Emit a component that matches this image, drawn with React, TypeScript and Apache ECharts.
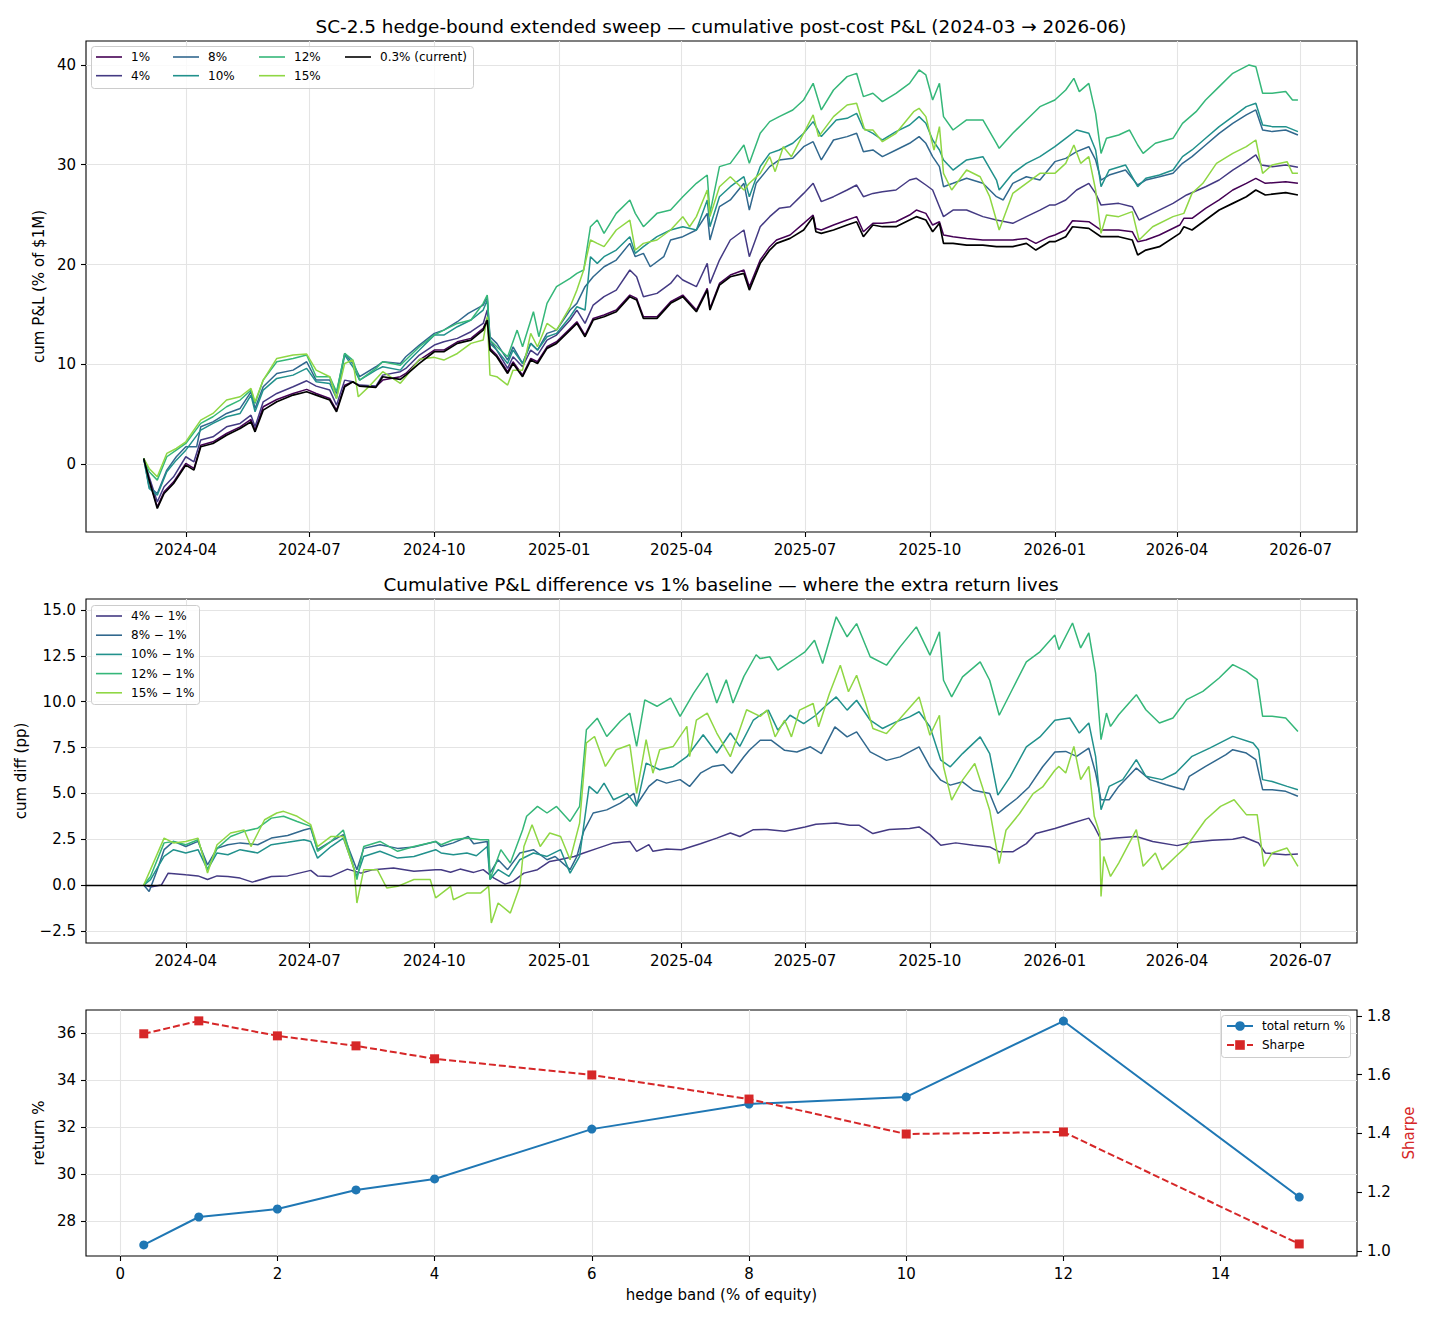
import React, { useEffect, useRef } from "react";
import * as echarts from "echarts";

const FONT = "DejaVu Sans";

// ---------- axis ticks ----------
// x positions are day indices counted from 2024-03-01
const dateTickDays = [31, 122, 214, 306, 396, 487, 579, 671, 761, 852];
const dateTickLabels = ["2024-04", "2024-07", "2024-10", "2025-01", "2025-04", "2025-07", "2025-10", "2026-01", "2026-04", "2026-07"];
const pnlTicks = [0, 10, 20, 30, 40];
const diffTicks = [-2.5, 0, 2.5, 5, 7.5, 10, 12.5, 15];
const bandTicks = [0, 2, 4, 6, 8, 10, 12, 14];
const returnTicks = [28, 30, 32, 34, 36];
const sharpeTicks = [1.0, 1.2, 1.4, 1.6, 1.8];

// ---------- top panel: cumulative P&L (% of $1M), [day, value] ----------
const pnl1 = [[0,0.57],[4,-1.54],[10,-4.28],[15,-2.77],[22,-1.77],[31,0.07],[37,-0.43],[42,1.9],[51,2.24],[61,3.07],[71,3.74],[79,4.48],[82,3.41],[88,5.75],[98,6.48],[110,7.08],[120,7.49],[127,7.08],[137,6.58],[142,5.41],[148,7.92],[154,8.25],[159,7.82],[171,7.75],[176,8.42],[189,8.76],[193,9.09],[203,10.43],[214,11.43],[221,11.43],[231,12.26],[241,12.6],[250,13.6],[253,14.6],[255,11.6],[260,10.93],[268,9.26],[272,10.26],[279,8.92],[285,10.59],[290,10.26],[297,11.76],[304,12.26],[314,13.6],[319,14.27],[325,12.93],[331,14.6],[339,14.94],[348,15.44],[358,16.94],[363,16.61],[368,14.77],[378,14.77],[388,16.27],[397,16.94],[407,15.44],[415,17.61],[417,15.61],[424,18.11],[432,18.95],[442,19.45],[446,17.78],[454,20.45],[461,21.79],[466,22.46],[476,22.96],[486,24.13],[493,24.96],[495,23.62],[499,23.46],[508,23.96],[518,24.46],[525,24.8],[530,23.29],[537,24.13],[544,24.13],[554,24.29],[564,24.96],[569,25.46],[576,25.13],[581,23.96],[586,24.29],[589,22.96],[596,22.79],[606,22.62],[618,22.46],[628,22.46],[640,22.46],[650,22.62],[657,22.12],[667,22.79],[671,22.96],[679,23.46],[684,24.39],[696,24.29],[705,23.46],[718,23.46],[728,23.29],[732,22.29],[738,22.46],[748,22.96],[763,23.96],[766,24.63],[772,24.63],[782,25.63],[792,26.47],[802,27.47],[812,28.14],[819,28.64],[826,28.14],[841,28.3],[850,28.14]];
const pnl4 = [[0,0.57],[4,-1.27],[10,-3.78],[15,-2.27],[22,-1.27],[31,0.74],[37,0.23],[42,2.41],[51,2.74],[61,3.74],[71,4.08],[79,4.91],[82,3.74],[88,6.25],[98,7.08],[110,7.75],[120,8.35],[127,7.82],[137,7.42],[142,5.91],[148,8.42],[154,8.25],[159,7.92],[171,7.82],[176,8.92],[189,9.26],[193,9.59],[203,10.93],[214,11.93],[221,12.26],[231,12.6],[241,13.27],[250,14.1],[253,15.44],[255,12.43],[260,11.43],[268,9.59],[272,10.76],[279,9.76],[285,11.43],[290,10.93],[297,12.43],[304,12.93],[314,14.44],[319,15.44],[325,14.1],[331,15.94],[339,16.78],[348,17.44],[358,19.45],[363,18.78],[368,16.78],[378,17.11],[388,18.11],[393,18.95],[397,18.45],[407,17.78],[415,20.12],[417,18.11],[424,20.45],[432,22.46],[442,23.46],[446,20.79],[454,23.79],[461,24.8],[468,25.63],[476,25.8],[486,27.13],[493,28.14],[499,26.3],[508,26.8],[518,27.47],[525,27.97],[530,26.8],[537,27.13],[544,27.3],[554,27.47],[564,28.47],[569,28.64],[576,27.97],[581,27.47],[586,25.8],[589,24.8],[596,25.46],[606,25.46],[618,24.8],[628,24.46],[640,24.13],[650,24.8],[660,25.46],[667,25.96],[671,25.96],[679,26.47],[687,27.47],[696,28.14],[701,27.13],[705,25.96],[718,26.13],[728,25.8],[733,24.46],[743,25.13],[758,26.13],[768,26.97],[782,27.8],[792,28.47],[802,29.47],[812,30.31],[819,30.98],[823,29.98],[831,29.81],[841,29.98],[850,29.74]];
const pnl8 = [[0,0.57],[4,-2.27],[10,-2.94],[17,-0.6],[24,0.74],[31,1.74],[39,1.74],[42,3.74],[51,4.24],[61,5.08],[71,5.58],[79,7.25],[82,5.58],[88,7.75],[98,9.09],[110,9.42],[120,10.26],[127,8.42],[137,8.42],[142,7.08],[148,11.1],[154,10.09],[159,8.76],[171,9.76],[176,10.26],[189,10.09],[193,10.76],[203,11.93],[214,13.1],[221,13.43],[231,14.27],[239,15.1],[250,15.94],[253,16.78],[255,12.77],[260,12.1],[268,10.43],[272,11.76],[279,10.09],[285,12.1],[290,11.43],[297,13.1],[304,13.43],[314,15.44],[319,16.11],[325,17.78],[331,18.78],[339,19.78],[348,20.45],[358,22.12],[362,20.79],[368,21.12],[373,19.78],[383,20.79],[388,22.46],[397,22.79],[407,23.46],[415,25.13],[417,22.46],[424,25.8],[432,26.47],[442,28.14],[446,25.46],[451,28.14],[461,29.81],[468,30.48],[478,30.64],[486,31.81],[493,32.31],[499,30.48],[508,32.48],[518,32.82],[525,33.15],[530,31.31],[537,31.48],[544,30.81],[554,31.48],[564,32.15],[571,32.82],[576,32.15],[581,30.81],[586,29.81],[589,27.8],[596,28.14],[606,28.64],[618,28.14],[628,26.8],[633,26.47],[640,28.14],[650,28.8],[660,28.47],[671,30.31],[679,30.64],[687,31.31],[696,31.81],[701,30.48],[705,28.47],[711,28.97],[723,29.47],[732,27.97],[738,28.47],[748,28.8],[758,29.14],[765,30.14],[772,30.81],[782,31.98],[792,33.15],[802,34.15],[812,34.99],[819,35.49],[824,33.48],[831,33.32],[841,33.48],[850,32.98]];
const pnl10 = [[0,0.57],[4,-2.44],[10,-3.11],[17,-0.77],[24,0.4],[31,1.4],[42,3.41],[51,4.08],[61,4.75],[71,5.08],[79,6.92],[82,5.25],[88,7.42],[98,8.59],[110,8.92],[120,9.59],[127,8.25],[137,8.09],[142,6.58],[148,10.93],[154,9.76],[159,8.42],[171,9.42],[176,9.76],[189,9.42],[193,10.09],[203,11.43],[214,12.93],[221,12.93],[231,13.77],[241,14.44],[250,15.44],[253,16.44],[255,12.1],[260,11.43],[268,10.09],[272,11.43],[279,10.09],[285,12.1],[290,11.43],[297,12.77],[304,13.1],[314,14.77],[319,15.77],[325,15.44],[329,20.79],[334,20.12],[339,20.79],[348,21.45],[358,22.79],[362,21.12],[368,21.79],[378,22.79],[388,23.46],[397,23.79],[407,23.46],[415,26.47],[417,23.79],[424,26.8],[432,27.8],[442,28.8],[446,26.8],[454,29.81],[461,31.14],[468,31.48],[478,32.15],[486,33.15],[493,34.32],[499,32.82],[510,34.49],[518,34.65],[525,35.15],[530,33.65],[537,33.15],[544,32.48],[554,33.32],[564,33.98],[571,34.82],[576,34.15],[581,32.48],[586,31.48],[589,30.48],[596,29.47],[606,30.48],[618,30.81],[628,28.47],[630,27.47],[640,29.14],[650,30.14],[660,30.81],[671,31.81],[679,32.65],[687,33.48],[696,33.15],[701,31.48],[705,27.8],[711,29.47],[723,29.98],[732,27.8],[738,28.64],[748,28.97],[758,29.47],[765,30.81],[772,31.48],[782,32.65],[792,33.82],[802,34.82],[812,35.82],[819,36.16],[824,33.98],[831,33.82],[841,33.82],[850,33.32]];
const pnl12 = [[0,0.57],[4,-0.77],[10,-1.6],[17,0.74],[24,1.4],[31,2.07],[42,4.08],[51,4.75],[61,5.75],[71,6.42],[79,7.42],[82,6.08],[88,8.42],[98,10.26],[110,10.59],[120,10.93],[127,8.76],[137,8.76],[142,7.25],[148,11.1],[154,10.43],[159,8.42],[171,9.59],[176,10.26],[189,9.92],[193,10.43],[203,11.76],[214,12.93],[221,13.43],[231,14.1],[241,14.44],[250,16.11],[253,16.94],[255,12.43],[260,11.76],[268,10.76],[275,13.43],[279,11.76],[287,15.27],[291,12.77],[297,16.11],[304,17.78],[314,18.61],[319,19.11],[324,19.45],[329,23.79],[334,24.46],[339,23.12],[348,25.13],[358,26.47],[362,25.13],[368,23.79],[378,25.13],[388,25.46],[397,26.8],[407,28.14],[415,28.97],[417,25.13],[424,29.81],[432,30.14],[442,31.98],[446,30.14],[454,33.15],[461,34.32],[468,34.82],[478,35.49],[486,36.49],[493,38.16],[499,35.49],[508,37.49],[518,38.83],[525,39.16],[530,36.83],[537,37.16],[544,36.32],[554,37.16],[564,38.16],[571,39.5],[576,39.0],[581,36.49],[586,38.16],[589,34.82],[596,33.48],[606,34.49],[618,34.49],[628,32.15],[630,31.65],[640,33.15],[650,34.49],[660,35.82],[671,36.49],[679,37.49],[685,38.66],[689,37.33],[696,38.16],[701,35.15],[705,31.14],[709,32.65],[718,32.98],[726,33.48],[732,31.98],[736,31.14],[745,32.15],[758,32.65],[765,34.15],[775,35.32],[782,36.49],[792,37.83],[802,39.16],[814,40.0],[819,39.83],[824,37.16],[831,37.16],[841,37.33],[846,36.49],[850,36.49]];
const pnl15 = [[0,0.57],[4,-0.43],[10,-1.27],[17,1.07],[24,1.57],[31,2.24],[42,4.41],[51,5.08],[61,6.42],[71,6.75],[79,7.59],[82,6.25],[88,8.42],[98,10.59],[110,10.93],[120,11.03],[127,9.42],[137,8.76],[142,6.58],[148,10.09],[154,10.43],[158,6.75],[167,7.92],[176,9.26],[189,8.1],[193,8.76],[203,10.5],[214,10.7],[221,10.43],[231,11.09],[241,12.1],[250,12.43],[253,14.77],[255,8.92],[260,8.76],[268,7.92],[272,9.42],[279,9.42],[285,13.1],[290,11.76],[297,14.1],[304,13.43],[314,15.77],[319,17.44],[324,19.45],[329,22.46],[334,22.12],[339,21.79],[348,23.46],[358,24.46],[362,21.45],[368,22.12],[378,22.46],[388,23.46],[397,24.8],[402,23.79],[407,24.8],[415,27.47],[417,24.8],[424,27.8],[432,28.8],[442,27.47],[446,28.14],[454,29.14],[461,30.81],[465,29.31],[471,31.81],[477,30.81],[486,33.15],[493,34.99],[497,32.82],[508,34.82],[518,35.99],[525,36.16],[531,33.48],[537,33.48],[544,32.31],[554,33.15],[567,35.32],[571,35.66],[576,34.82],[582,31.48],[586,33.82],[589,29.14],[595,27.47],[606,29.47],[616,28.8],[623,26.8],[630,23.46],[640,27.13],[650,28.14],[660,29.14],[671,29.14],[679,30.14],[685,31.98],[690,30.14],[696,30.81],[701,27.47],[705,23.12],[709,24.96],[718,24.8],[728,25.3],[733,22.46],[743,23.79],[758,24.8],[766,25.13],[772,27.13],[780,28.14],[790,30.14],[802,31.14],[812,31.81],[819,32.48],[824,29.14],[831,29.98],[842,30.31],[846,29.14],[850,29.14]];
const pnlCurrent = [[0,0.57],[4,-1.6],[10,-4.44],[15,-2.94],[22,-1.94],[31,-0.1],[37,-0.6],[42,1.74],[51,2.07],[61,2.9],[71,3.58],[79,4.24],[82,3.24],[88,5.41],[98,6.25],[110,6.92],[120,7.25],[127,6.92],[137,6.42],[142,5.25],[148,7.75],[154,8.25],[159,7.82],[171,7.69],[176,8.76],[189,8.49],[193,8.92],[203,10.09],[214,11.26],[221,11.26],[231,12.1],[241,12.43],[250,13.43],[253,14.44],[255,11.43],[260,10.76],[268,9.09],[272,10.09],[279,8.76],[285,10.43],[290,10.09],[297,11.6],[304,12.1],[314,13.43],[319,14.1],[325,12.77],[331,14.44],[339,14.77],[348,15.27],[358,16.78],[363,16.44],[368,14.6],[378,14.6],[388,16.11],[397,16.78],[407,15.27],[415,17.44],[417,15.44],[424,17.94],[432,18.78],[442,19.11],[446,17.44],[454,20.12],[461,21.45],[466,22.12],[476,22.62],[486,23.46],[493,24.8],[495,23.29],[499,23.12],[508,23.46],[518,23.96],[525,24.29],[530,22.79],[537,23.96],[544,23.79],[554,23.79],[564,24.46],[569,24.8],[576,24.46],[581,23.29],[586,24.13],[589,22.12],[596,22.12],[606,21.95],[618,21.95],[628,21.79],[640,21.79],[650,22.12],[657,21.45],[667,22.29],[671,22.29],[679,22.79],[684,23.79],[696,23.62],[705,22.79],[718,22.79],[728,22.46],[732,20.95],[738,21.45],[748,21.79],[763,23.12],[766,23.79],[772,23.46],[782,24.46],[792,25.46],[802,26.13],[812,26.8],[819,27.47],[826,26.97],[841,27.2],[850,26.97]];

// ---------- middle panel: difference vs 1% baseline (pp), [day, value] ----------
const diff4 = [[0,0],[5,-0.1],[13,0],[18,0.65],[31,0.56],[40,0.5],[47,0.3],[54,0.5],[62,0.47],[71,0.38],[80,0.16],[94,0.47],[106,0.5],[123,0.8],[128,0.5],[138,0.47],[150,0.87],[160,0.65],[169,0.84],[184,0.93],[199,0.75],[215,0.84],[219,0.84],[226,0.7],[233,0.87],[243,0.69],[250,0.84],[258,0.38],[266,0.05],[272,0.2],[280,0.65],[290,0.84],[299,1.29],[306,1.38],[317,1.56],[324,1.75],[334,2.0],[346,2.3],[358,2.38],[363,1.84],[372,2.2],[375,1.84],[385,1.96],[396,1.93],[410,2.25],[422,2.56],[432,2.84],[439,2.65],[449,3.02],[459,3.03],[472,2.94],[487,3.17],[495,3.32],[510,3.39],[520,3.26],[527,3.26],[537,2.81],[549,3.03],[564,3.08],[571,3.17],[579,2.75],[587,2.17],[598,2.3],[611,2.17],[623,2.08],[630,1.81],[640,1.81],[650,2.26],[657,2.81],[671,3.08],[684,3.38],[696,3.65],[700,3.2],[705,2.47],[716,2.56],[731,2.65],[743,2.38],[761,2.15],[772,2.33],[787,2.44],[802,2.5],[810,2.62],[821,2.29],[826,1.75],[841,1.65],[850,1.69]];
const diff8 = [[0,0],[4,-0.35],[10,0.84],[15,1.93],[22,2.38],[31,2.1],[40,2.38],[47,1.1],[54,2.0],[62,2.2],[71,2.3],[84,2.2],[94,2.56],[106,2.7],[118,3.0],[123,3.1],[128,1.93],[138,2.38],[147,2.75],[157,0.84],[162,2.0],[174,2.2],[187,2.0],[199,2.07],[215,2.38],[219,2.1],[228,2.3],[239,2.65],[243,2.25],[253,2.38],[255,0.65],[261,1.38],[268,0.84],[277,1.75],[287,1.93],[297,1.38],[303,1.56],[314,0.84],[319,1.56],[324,2.93],[331,3.93],[341,4.1],[351,4.47],[361,5.0],[363,4.38],[372,5.38],[378,5.75],[385,5.56],[395,5.75],[402,5.38],[410,6.1],[419,6.47],[427,6.56],[433,6.1],[442,7.0],[446,7.35],[454,7.9],[462,7.9],[472,7.35],[481,7.26],[491,7.54],[499,7.17],[509,8.63],[518,8.08],[525,8.35],[535,7.26],[547,6.8],[557,6.99],[564,7.26],[571,7.54],[579,6.45],[587,5.72],[594,5.45],[603,5.63],[611,5.17],[623,4.99],[629,3.9],[635,4.26],[643,4.72],[652,5.35],[662,6.45],[671,7.26],[679,7.29],[687,7.02],[696,7.47],[701,6.11],[705,4.65],[711,4.65],[718,5.38],[731,6.38],[741,5.75],[753,5.47],[766,5.2],[770,5.93],[782,6.47],[797,7.11],[802,7.38],[812,7.2],[819,6.84],[824,5.2],[831,5.2],[841,5.11],[850,4.84]];
const diff10 = [[0,0],[5,0.3],[15,1.56],[22,1.93],[31,1.75],[40,1.93],[47,0.84],[54,1.75],[62,1.65],[71,1.93],[84,1.75],[94,2.2],[106,2.33],[118,2.47],[123,2.38],[128,1.47],[138,2.1],[147,2.56],[157,0.47],[162,1.56],[174,1.84],[187,1.47],[199,1.56],[215,1.93],[219,1.75],[228,1.65],[238,1.75],[245,1.6],[253,2.1],[255,0.3],[261,0.84],[269,0.47],[277,1.38],[287,1.75],[297,1.56],[307,1.93],[314,0.65],[321,1.56],[328,5.38],[334,5.0],[339,5.56],[346,4.65],[356,5.0],[363,4.29],[370,6.65],[380,6.29],[390,6.47],[400,7.0],[412,8.2],[422,7.2],[432,8.29],[439,7.56],[449,9.0],[454,9.26],[460,9.54],[467,8.45],[476,9.26],[486,8.8],[495,9.26],[500,9.63],[510,10.26],[518,9.54],[525,10.08],[535,8.99],[544,8.54],[554,8.9],[564,9.17],[571,9.45],[579,8.63],[587,6.81],[594,6.45],[603,7.17],[616,8.08],[623,7.17],[629,4.9],[638,5.9],[650,7.54],[660,8.08],[671,8.99],[682,9.11],[689,8.29],[696,8.84],[701,7.02],[705,4.11],[711,5.38],[721,5.75],[731,6.84],[738,5.93],[750,5.75],[760,6.11],[772,7.02],[785,7.47],[802,8.11],[817,7.75],[821,7.38],[824,5.75],[831,5.65],[842,5.38],[850,5.2]];
const diff12 = [[0,0],[5,0.47],[15,2.3],[22,2.38],[31,2.2],[40,2.47],[47,0.84],[54,2.0],[64,2.65],[74,2.93],[84,3.1],[94,3.65],[103,3.75],[113,3.47],[123,3.2],[128,1.84],[138,2.38],[147,3.0],[157,0.3],[162,2.1],[174,2.38],[187,1.84],[199,2.1],[215,2.38],[219,2.2],[228,2.47],[238,2.56],[248,2.47],[254,2.47],[255,0.3],[263,1.93],[270,1.2],[279,3.0],[282,3.75],[290,4.29],[297,3.93],[304,4.29],[314,3.47],[321,4.29],[326,8.47],[334,9.1],[341,8.1],[351,8.93],[358,9.38],[363,7.56],[369,10.1],[378,9.75],[388,10.2],[395,9.2],[405,10.47],[415,11.56],[422,9.93],[429,11.2],[434,9.93],[442,11.38],[451,12.56],[454,12.35],[461,12.45],[467,11.72],[478,12.26],[487,12.72],[494,13.35],[500,12.08],[510,14.63],[518,13.54],[525,14.26],[535,12.45],[547,11.99],[557,12.99],[569,14.08],[579,12.54],[586,13.81],[589,11.17],[595,10.26],[603,11.35],[616,12.17],[623,11.17],[630,9.26],[640,10.72],[650,12.17],[660,12.72],[671,13.63],[674,12.84],[684,14.29],[690,12.93],[696,13.75],[701,11.56],[705,7.93],[709,9.38],[712,8.65],[718,9.29],[731,10.38],[738,9.56],[748,8.84],[758,9.11],[768,10.11],[780,10.56],[792,11.29],[802,12.02],[812,11.65],[820,11.2],[824,9.2],[831,9.2],[841,9.11],[850,8.38]];
const diff15 = [[0,0],[5,0.84],[15,2.56],[22,2.3],[31,2.38],[40,2.56],[47,0.65],[54,2.2],[64,2.84],[74,3.0],[79,2.1],[89,3.56],[98,3.93],[103,4.02],[113,3.75],[123,3.29],[128,2.1],[138,2.65],[147,2.65],[155,0.84],[157,-0.98],[162,0.84],[172,0.84],[179,-0.16],[187,-0.07],[199,0.3],[211,0.3],[215,-0.7],[226,-0.07],[228,-0.8],[238,-0.44],[248,-0.44],[254,-0.07],[256,-2.07],[261,-0.98],[270,-1.53],[277,-0.07],[280,2.1],[286,3.29],[292,2.1],[299,2.84],[307,2.65],[314,1.38],[321,3.38],[326,7.75],[332,8.1],[340,6.47],[348,7.38],[358,7.65],[363,5.0],[370,7.93],[375,6.1],[380,7.38],[390,7.56],[400,8.65],[402,7.0],[407,9.0],[415,9.38],[422,8.29],[432,7.0],[444,9.56],[454,9.2],[459,9.54],[465,8.08],[472,8.99],[477,8.08],[483,9.54],[493,9.9],[497,8.63],[505,10.45],[513,11.99],[519,10.54],[525,11.44],[531,10.08],[537,8.54],[547,8.26],[557,9.08],[571,10.26],[579,8.17],[586,9.26],[589,6.45],[595,4.63],[603,5.72],[612,6.63],[618,5.26],[623,4.08],[630,1.17],[635,2.99],[645,3.9],[655,4.99],[662,5.35],[671,6.26],[674,6.47],[679,6.11],[685,7.56],[690,5.75],[696,6.47],[700,3.75],[704,2.84],[705,-0.62],[707,1.56],[712,0.47],[718,1.2],[731,3.02],[736,1.02],[745,1.75],[750,0.84],[760,1.56],[768,2.11],[775,2.84],[782,3.56],[793,4.29],[803,4.65],[812,3.84],[820,3.84],[825,1.02],[831,1.75],[842,2.02],[850,1.02]];

// ---------- bottom panel ----------
const hedgeBands = [0.3, 1, 2, 3, 4, 6, 8, 10, 12, 15];
const totalReturn = [26.98, 28.17, 28.51, 29.32, 29.79, 31.91, 32.98, 33.28, 36.51, 29.02];
const sharpe = [1.739, 1.783, 1.732, 1.698, 1.654, 1.599, 1.517, 1.398, 1.405, 1.024];

const topNames = ["1%", "4%", "8%", "10%", "12%", "15%", "0.3% (current)"];
const topColors = ["#440154", "#443a83", "#31688e", "#21918c", "#35b779", "#8fd744", "#000000"];
const topData = [pnl1, pnl4, pnl8, pnl10, pnl12, pnl15, pnlCurrent];
const diffNames = ["4% \u2212 1%", "8% \u2212 1%", "10% \u2212 1%", "12% \u2212 1%", "15% \u2212 1%"];
const diffColors = ["#443a83", "#31688e", "#21918c", "#35b779", "#8fd744"];
const diffData = [diff4, diff8, diff10, diff12, diff15];

const minus = (s: string) => s.replace("-", "\u2212");

const labelStyle = { color: "#000", fontFamily: FONT, fontSize: 15 };
const splitStyle = { show: true, lineStyle: { color: "#e4e4e4", width: 1.1 } };
const LINE_ICON = "path://M0,0H26V1.6H0Z";

function xAxisDef(gridIndex: number, min: number, max: number, ticks: number[], fmt: (v: number) => string, extra: any = {}) {
  return {
    type: "value", gridIndex, min, max,
    axisLine: { show: false, onZero: false },
    axisTick: { show: true, length: 5, customValues: ticks, lineStyle: { color: "#000", width: 1.1 } },
    axisLabel: { ...labelStyle, margin: 10, customValues: ticks, formatter: fmt },
    splitLine: splitStyle,
    ...extra,
  };
}
function yAxisDef(gridIndex: number, min: number, max: number, ticks: number[], fmt: (v: number) => string, extra: any = {}) {
  return {
    type: "value", gridIndex, min, max,
    axisLine: { show: false, onZero: false },
    axisTick: { show: true, length: 5, customValues: ticks, lineStyle: { color: "#000", width: 1.1 } },
    axisLabel: { ...labelStyle, margin: 10, customValues: ticks, formatter: fmt },
    splitLine: splitStyle,
    nameLocation: "middle",
    nameTextStyle: { color: "#000", fontFamily: FONT, fontSize: 15 },
    ...extra,
  };
}

const dateFmt = (v: number) => {
  const i = dateTickDays.indexOf(Math.round(v));
  return i >= 0 ? dateTickLabels[i] : "";
};

function legendCol(left: number, top: number, names: string[], gap: number, icon?: string, itemHeight = 14) {
  const l: any = {
    left, top, orient: "vertical", padding: 0, itemGap: gap, itemWidth: 26, itemHeight,
    data: names, selectedMode: false,
    textStyle: { color: "#000", fontFamily: FONT, fontSize: 12, lineHeight: itemHeight, padding: [0, 0, 0, 4] },
  };
  if (icon) l.icon = icon;
  return l;
}

export default function App() {
  const ref = useRef<HTMLDivElement>(null);
  useEffect(() => {
    document.body.style.margin = "0";
    if (!ref.current) return;
    const chart = echarts.init(ref.current, null, { renderer: "svg" });
    const gridBase = { show: true, borderColor: "#000", borderWidth: 1.1, backgroundColor: "transparent", containLabel: false };
    const series: any[] = [];
    topData.forEach((d, i) => {
      series.push({
        type: "line", name: topNames[i], xAxisIndex: 0, yAxisIndex: 0, data: d,
        symbol: "none", color: topColors[i], lineStyle: { width: i === 6 ? 1.7 : 1.5, color: topColors[i] },
        z: i === 6 ? 3 : 2,
      });
    });
    diffData.forEach((d, i) => {
      series.push({
        type: "line", name: diffNames[i], xAxisIndex: 1, yAxisIndex: 1, data: d,
        symbol: "none", color: diffColors[i], lineStyle: { width: 1.5, color: diffColors[i] },
        markLine: i === 0 ? {
          silent: true, symbol: ["none", "none"], label: { show: false },
          lineStyle: { color: "#000", width: 1.3, type: "solid" },
          data: [{ yAxis: 0 }],
        } : undefined,
      });
    });
    series.push({
      type: "line", name: "total return %", xAxisIndex: 2, yAxisIndex: 2,
      data: hedgeBands.map((b, i) => [b, totalReturn[i]]),
      symbol: "circle", symbolSize: 9, color: "#1f77b4",
      lineStyle: { width: 2, color: "#1f77b4" }, itemStyle: { color: "#1f77b4" },
    });
    series.push({
      type: "line", name: "Sharpe", xAxisIndex: 2, yAxisIndex: 3,
      data: hedgeBands.map((b, i) => [b, sharpe[i]]),
      symbol: "rect", symbolSize: 9, color: "#d62728",
      lineStyle: { width: 2, color: "#d62728", type: [7, 3] }, itemStyle: { color: "#d62728" },
    });

    const titleStyle = { fontFamily: FONT, fontSize: 18.4, fontWeight: "normal", color: "#000" };
    const option: any = {
      animation: false,
      backgroundColor: "#ffffff",
      textStyle: { fontFamily: FONT },
      title: [
        { text: "SC-2.5 hedge-bound extended sweep \u2014 cumulative post-cost P&L (2024-03 \u2192 2026-06)", left: 716, top: 12, textAlign: "center", textStyle: titleStyle },
        { text: "Cumulative P&L difference vs 1% baseline \u2014 where the extra return lives", left: 716, top: 570, textAlign: "center", textStyle: titleStyle },
      ],
      grid: [
        { ...gridBase, left: 86, top: 41, width: 1271, height: 491 },
        { ...gridBase, left: 86, top: 599, width: 1271, height: 344 },
        { ...gridBase, left: 86, top: 1010, width: 1271, height: 246 },
      ],
      xAxis: [
        xAxisDef(0, -42.5, 893.5, dateTickDays, dateFmt),
        xAxisDef(1, -42.5, 893.5, dateTickDays, dateFmt),
        xAxisDef(2, -0.435, 15.735, bandTicks, (v: number) => String(v), {
          name: "hedge band (% of equity)", nameLocation: "middle", nameGap: 31,
          nameTextStyle: { color: "#000", fontFamily: FONT, fontSize: 15 },
        }),
      ],
      yAxis: [
        yAxisDef(0, -6.8, 42.4, pnlTicks, (v: number) => minus(String(v)), { name: "cum P&L (% of $1M)", nameGap: 37 }),
        yAxisDef(1, -3.16, 15.6, diffTicks, (v: number) => minus(v.toFixed(1)), { name: "cum diff (pp)", nameGap: 54 }),
        yAxisDef(2, 26.51, 36.98, returnTicks, (v: number) => String(v), { name: "return %", nameGap: 37 }),
        yAxisDef(2, 0.983, 1.82, sharpeTicks, (v: number) => v.toFixed(1), {
          position: "right", name: "Sharpe", nameGap: 40, splitLine: { show: false },
          nameTextStyle: { color: "#d62728", fontFamily: FONT, fontSize: 15 },
        }),
      ],
      legend: [
        legendCol(96, 50, ["1%", "4%"], 4.7, LINE_ICON),
        legendCol(173, 50, ["8%", "10%"], 4.7, LINE_ICON),
        legendCol(259, 50, ["12%", "15%"], 4.7, LINE_ICON),
        legendCol(345, 50, ["0.3% (current)"], 4.7, LINE_ICON),
        legendCol(96, 609, diffNames, 5.2, LINE_ICON),
        legendCol(1226, 1020, ["total return %", "Sharpe"], 7, undefined, 12),
      ],
      graphic: [
        { type: "rect", z: 3, shape: { x: 91.5, y: 46.5, width: 382, height: 42, r: 3 }, style: { fill: "rgba(255,255,255,0.8)", stroke: "#cccccc", lineWidth: 1 } },
        { type: "rect", z: 3, shape: { x: 91.5, y: 605.5, width: 108, height: 99, r: 3 }, style: { fill: "rgba(255,255,255,0.8)", stroke: "#cccccc", lineWidth: 1 } },
        { type: "rect", z: 3, shape: { x: 1221.5, y: 1015.5, width: 129, height: 42, r: 3 }, style: { fill: "rgba(255,255,255,0.8)", stroke: "#cccccc", lineWidth: 1 } },
      ],
      series,
    };
    chart.setOption(option);
    return () => chart.dispose();
  }, []);
  return <div ref={ref} style={{ width: 1430, height: 1320 }} />;
}
